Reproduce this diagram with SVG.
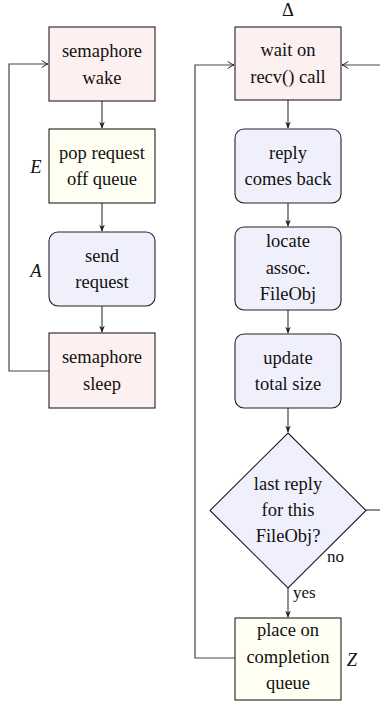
<svg xmlns="http://www.w3.org/2000/svg" width="380" height="702" viewBox="0 0 380 702">
  <defs>
    <marker id="tip" viewBox="0 0 10 10" refX="9" refY="5" markerWidth="7" markerHeight="7" markerUnits="userSpaceOnUse" orient="auto">
      <path d="M0,1 L10,5 L0,9 L3,5 Z" fill="#222"/>
    </marker>
    <marker id="open" viewBox="0 0 10 10" refX="9" refY="5" markerWidth="9" markerHeight="9" markerUnits="userSpaceOnUse" orient="auto">
      <path d="M2,1 Q6,4 9,5 Q6,6 2,9" fill="none" stroke="#222" stroke-width="1.1"/>
    </marker>
  </defs>
  <style>
    .red { fill: #fdf0f0; stroke: #222; stroke-width: 1.1; }
    .yel { fill: #fefef2; stroke: #222; stroke-width: 1.1; }
    .blu { fill: #f0f0fc; stroke: #222; stroke-width: 1.1; }
    .c { fill: none; stroke: #444; stroke-width: 1.2; }
  </style>

  <!-- connectors -->
  <g id="connectors">
    <path class="c" d="M102,101 V128" marker-end="url(#tip)"/>
    <path class="c" d="M102,203 V231" marker-end="url(#tip)"/>
    <path class="c" d="M102,306 V332" marker-end="url(#tip)"/>
    <path class="c" d="M49,371 H9 V64 H48" marker-end="url(#open)"/>

    <path class="c" d="M288,100 V128" marker-end="url(#tip)"/>
    <path class="c" d="M288,203 V226" marker-end="url(#tip)"/>
    <path class="c" d="M288,310 V333" marker-end="url(#tip)"/>
    <path class="c" d="M288,408 V432" marker-end="url(#tip)"/>
    <path class="c" d="M288,588 V617" marker-end="url(#tip)"/>
    <path class="c" d="M235,658 H195 V65 H234" marker-end="url(#open)"/>
    <path class="c" d="M366,510 H380"/>
    <path class="c" d="M380,65 H342" marker-end="url(#open)"/>
    <text x="293" y="598" font-family="Liberation Serif" font-size="17" fill="#111">yes</text>
    <text x="327" y="562" font-family="Liberation Serif" font-size="17" fill="#111">no</text>
  </g>

  <!-- left column -->
  <g id="sem-wake" font-family="Liberation Serif" font-size="18.5" text-anchor="middle" fill="#111">
    <rect class="red" x="49" y="27" width="106" height="74"/>
    <text x="102" y="57" font-family="Liberation Serif">semaphore</text>
    <text x="102" y="83.5" font-family="Liberation Serif">wake</text>
  </g>
  <g id="pop-request" font-family="Liberation Serif" font-size="18.5" text-anchor="middle" fill="#111">
    <rect class="yel" x="49" y="129" width="106" height="74"/>
    <text x="102" y="158.5" font-family="Liberation Serif">pop request</text>
    <text x="102" y="185" font-family="Liberation Serif">off queue</text>
    <text x="36" y="173" font-family="Liberation Serif" font-style="italic">E</text>
  </g>
  <g id="send-request" font-family="Liberation Serif" font-size="18.5" text-anchor="middle" fill="#111">
    <rect class="blu" x="49" y="232" width="106" height="74" rx="9"/>
    <text x="102" y="261.5" font-family="Liberation Serif">send</text>
    <text x="102" y="288" font-family="Liberation Serif">request</text>
    <text x="36" y="277" font-family="Liberation Serif" font-style="italic">A</text>
  </g>
  <g id="sem-sleep" font-family="Liberation Serif" font-size="18.5" text-anchor="middle" fill="#111">
    <rect class="red" x="49" y="333" width="106" height="75"/>
    <text x="102" y="363" font-family="Liberation Serif">semaphore</text>
    <text x="102" y="389.5" font-family="Liberation Serif">sleep</text>
  </g>

  <!-- right column -->
  <g id="wait-recv" font-family="Liberation Serif" font-size="18.5" text-anchor="middle" fill="#111">
    <text x="288" y="16" font-family="Liberation Serif">Δ</text>
    <rect class="red" x="235" y="27" width="106" height="73"/>
    <text x="288" y="56" font-family="Liberation Serif">wait on</text>
    <text x="288" y="82.5" font-family="Liberation Serif">recv() call</text>
  </g>
  <g id="reply-back" font-family="Liberation Serif" font-size="18.5" text-anchor="middle" fill="#111">
    <rect class="blu" x="235" y="129" width="106" height="74" rx="9"/>
    <text x="288" y="158.5" font-family="Liberation Serif">reply</text>
    <text x="288" y="185" font-family="Liberation Serif">comes back</text>
  </g>
  <g id="locate-fileobj" font-family="Liberation Serif" font-size="18.5" text-anchor="middle" fill="#111">
    <rect class="blu" x="235" y="227" width="106" height="83" rx="9"/>
    <text x="288" y="247" font-family="Liberation Serif">locate</text>
    <text x="288" y="273.5" font-family="Liberation Serif">assoc.</text>
    <text x="288" y="300" font-family="Liberation Serif">FileObj</text>
  </g>
  <g id="update-size" font-family="Liberation Serif" font-size="18.5" text-anchor="middle" fill="#111">
    <rect class="blu" x="235" y="334" width="106" height="74" rx="9"/>
    <text x="288" y="363.5" font-family="Liberation Serif">update</text>
    <text x="288" y="390" font-family="Liberation Serif">total size</text>
  </g>
  <g id="last-reply" font-family="Liberation Serif" font-size="18.5" text-anchor="middle" fill="#111">
    <polygon class="blu" points="288,433 366,510.5 288,588 210,510.5"/>
    <text x="288" y="490" font-family="Liberation Serif">last reply</text>
    <text x="288" y="516" font-family="Liberation Serif">for this</text>
    <text x="288" y="542" font-family="Liberation Serif">FileObj?</text>
  </g>
  <g id="completion" font-family="Liberation Serif" font-size="18.5" text-anchor="middle" fill="#111">
    <rect class="yel" x="235" y="618" width="106" height="82"/>
    <text x="288" y="636" font-family="Liberation Serif">place on</text>
    <text x="288" y="662.5" font-family="Liberation Serif">completion</text>
    <text x="288" y="689" font-family="Liberation Serif">queue</text>
    <text x="352" y="666" font-family="Liberation Serif" font-style="italic">Z</text>
  </g>
</svg>
